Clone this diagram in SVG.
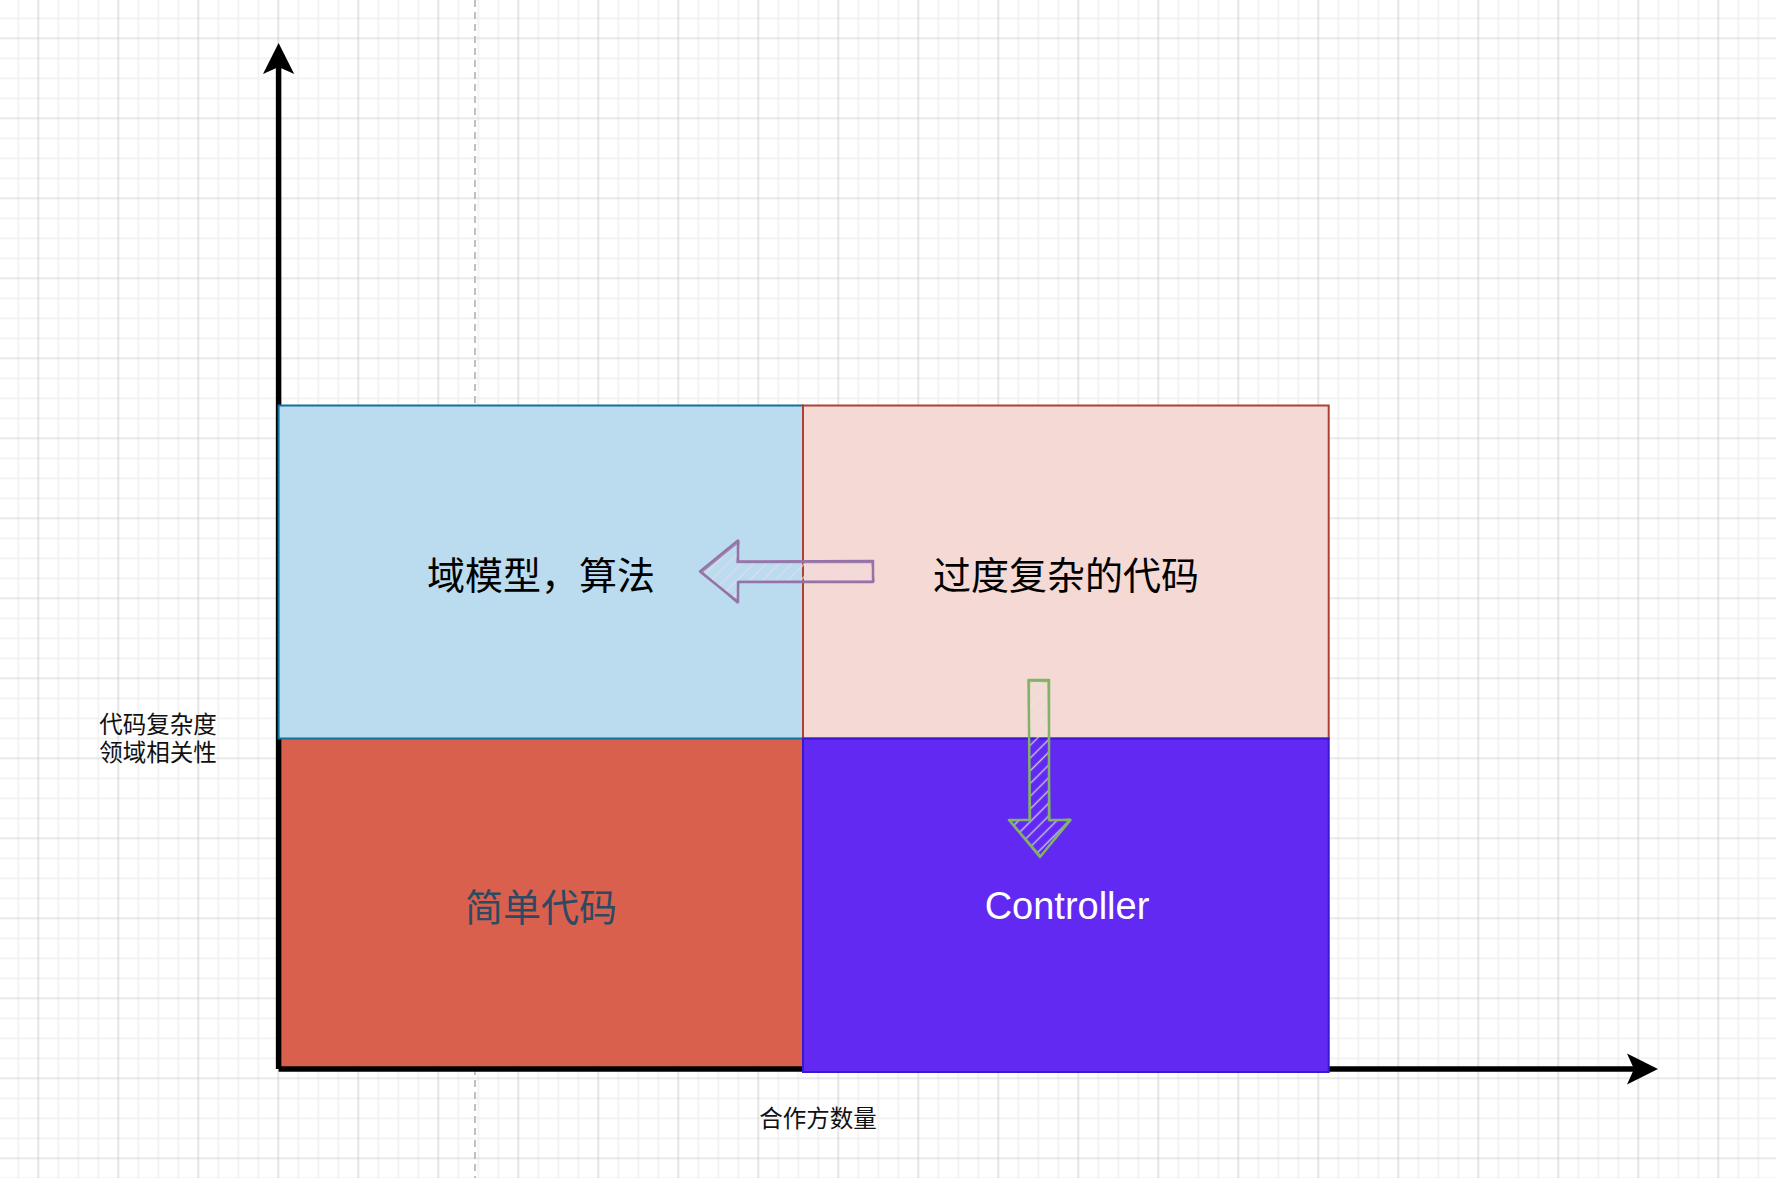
<svg xmlns="http://www.w3.org/2000/svg" width="1776" height="1178" viewBox="0 0 1776 1178">
<defs>
<pattern id="grid" x="-11.7" y="-11.7" width="80" height="80" patternUnits="userSpaceOnUse">
<path d="M10 0V80M30 0V80M70 0V80M0 10H80M0 30H80M0 70H80" stroke="#f0f0f0" stroke-width="1.6" fill="none"/>
<path d="M50 0V80M0 50H80" stroke="#d3d3d3" stroke-width="1.2" fill="none"/>
</pattern>
<pattern id="hatchPurple" width="9" height="9" patternUnits="userSpaceOnUse" patternTransform="rotate(45)">
<line x1="4.5" y1="0" x2="4.5" y2="9" stroke="#e6daf0" stroke-width="1.4" stroke-opacity="0.85"/>
</pattern>
<pattern id="hatchGreen" width="9" height="9" patternUnits="userSpaceOnUse" patternTransform="rotate(45)">
<line x1="4.5" y1="0" x2="4.5" y2="9" stroke="#dcebd9" stroke-width="1.4" stroke-opacity="0.8"/>
</pattern>
<style>
.cjk{font-family:"Noto Sans CJK SC","Liberation Sans",sans-serif;}
.big{font-size:38px;text-anchor:middle;dominant-baseline:central;}
.small{font-size:23.5px;text-anchor:middle;dominant-baseline:central;fill:#111;}
.axis{fill:none;stroke:#000;stroke-width:5.5;}
.head{fill:#000;stroke:none;}
</style>
</defs>
<rect x="0" y="0" width="1776" height="1178" fill="#ffffff"/>
<rect x="0" y="0" width="1776" height="1178" fill="url(#grid)"/>
<line x1="475" y1="0" x2="475" y2="1178" stroke="#c0c0c0" stroke-width="2" stroke-dasharray="7 5"/>

<g id="node-simple">
<rect x="278.6" y="738.5" width="524.4" height="330" fill="#d9604c" stroke="#c0513e" stroke-width="1"/>
<text class="cjk big" x="541" y="904" fill="#2c4a62">简单代码</text>
</g>

<g id="connectors">
<path class="axis" d="M278.6 1069 V62"/>
<path class="head" d="M278.6 43 L263 74 L278.6 67 L294.2 74 Z"/>
<path class="axis" d="M278.6 1069 H1640"/>
<path class="head" d="M1658 1069 L1627 1053.5 L1634 1069 L1627 1084.5 Z"/>
</g>

<g id="node-domain">
<rect x="278.6" y="405.5" width="524.4" height="333" fill="#badcee" stroke="#10739e" stroke-width="2"/>
<text class="cjk big" x="541" y="572" fill="#000">域模型，算法</text>
</g>

<g id="node-complex">
<rect x="803" y="405.5" width="525.7" height="333" fill="#f4d9d4" stroke="#ae4132" stroke-width="2"/>
<text class="cjk big" x="1066" y="572" fill="#000">过度复杂的代码</text>
</g>

<g id="node-controller">
<rect x="803" y="738.5" width="525.7" height="333.5" fill="#6229f2" stroke="#3a17d2" stroke-width="2"/>
<text x="1067" y="919" font-family="'Liberation Sans',Arial,sans-serif" font-size="38" text-anchor="middle" fill="#ffffff">Controller</text>
</g>

<g id="arrow-left">
<path d="M700 571.5 L738 540.5 L738 561.5 L873 561 L873 582 L738 582 L738 602 Z" fill="url(#hatchPurple)" stroke="#9673a6" stroke-width="2.5" stroke-linejoin="round"/>
<path d="M701.5 572.5 L739 542 L737 562.5 L872 562.5 L874 581 L739 581.5 L737 603 L701 571" fill="none" stroke="#9673a6" stroke-width="1.3" stroke-opacity="0.8"/>
</g>

<g id="arrow-down">
<path d="M1028.5 680 L1049 680 L1049 820 L1070.5 820 L1040 857 L1009 820 L1030 820 Z" fill="url(#hatchGreen)" stroke="#82b366" stroke-width="2.5" stroke-linejoin="round"/>
<path d="M1029.5 681 L1048 681.5 L1050 821 L1069.5 819 L1041 856 L1010.5 821 L1029 819.5 L1029.5 681" fill="none" stroke="#82b366" stroke-width="1.3" stroke-opacity="0.8"/>
</g>

<g id="label-y">
<text class="cjk small" x="158" y="722.5">代码复杂度</text>
<text class="cjk small" x="158" y="751">领域相关性</text>
</g>

<g id="label-x">
<text class="cjk small" x="818" y="1117">合作方数量</text>
</g>
</svg>
